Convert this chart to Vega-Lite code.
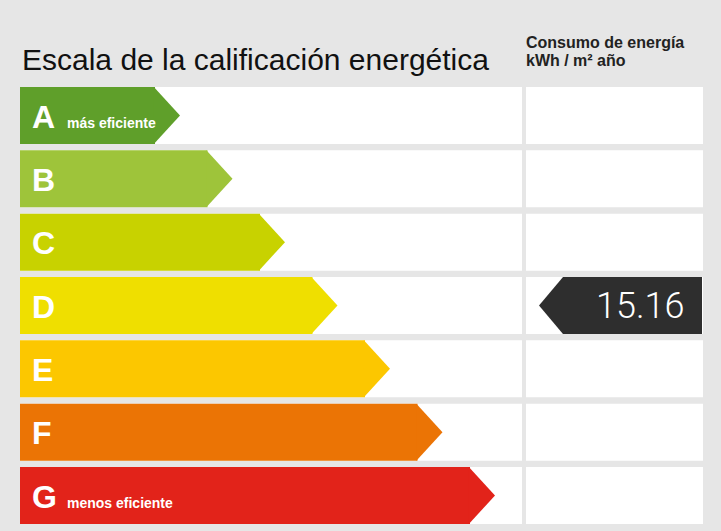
{
  "$schema": "https://vega.github.io/schema/vega-lite/v6.json",
  "background": "#e6e6e6",
  "padding": {"left": 20, "right": 18, "top": 35, "bottom": 8},
  "bounds": "flush",
  "spacing": 4,
  "config": {"view": {"stroke": null}},
  "hconcat": [
    {
      "width": 502,
      "height": 437,
      "title": {
        "text": "Escala de la calificación energética",
        "anchor": "start",
        "baseline": "alphabetic",
        "offset": -13,
        "dx": 2,
        "font": "Liberation Sans",
        "fontSize": 30,
        "fontWeight": "normal",
        "color": "#111111"
      },
      "data": {
        "values": [
          {"grade": "A", "rank": 1, "note": "más eficiente"},
          {"grade": "B", "rank": 2, "note": null},
          {"grade": "C", "rank": 3, "note": null},
          {"grade": "D", "rank": 4, "note": null},
          {"grade": "E", "rank": 5, "note": null},
          {"grade": "F", "rank": 6, "note": null},
          {"grade": "G", "rank": 7, "note": "menos eficiente"}
        ]
      },
      "encoding": {
        "y": {"field": "grade", "type": "ordinal", "axis": null,
              "scale": {"domain": ["A","B","C","D","E","F","G"], "paddingInner": 0.1, "paddingOuter": 0}}
      },
      "layer": [
        {"mark": {"type": "bar", "color": "#ffffff"}},
        {
          "mark": {"type": "bar"},
          "encoding": {
            "x": {"field": "rank", "type": "quantitative", "axis": null,
                  "scale": {"domain": [-1.5714, 7.9905], "zero": false, "nice": false}},
            "x2": {"datum": -1.5714},
            "color": {"field": "grade", "type": "nominal", "legend": null,
                      "scale": {"domain": ["A","B","C","D","E","F","G"],
                                "range": ["#5f9f2a","#9ec43a","#c8d200","#efdf00","#fcc700","#eb7405","#e2231a"]}}
          }
        },
        {
          "mark": {"type": "point", "shape": "M-0.04,-1L0.877,0L-0.04,1Z", "size": 3249, "filled": true, "opacity": 1, "strokeWidth": 0},
          "encoding": {
            "x": {"field": "rank", "type": "quantitative"},
            "color": {"field": "grade", "type": "nominal", "legend": null}
          }
        },
        {
          "mark": {"type": "text", "align": "left", "baseline": "alphabetic", "dx": 12, "dy": 12,
                   "font": "Liberation Sans", "fontSize": 32, "fontWeight": "bold", "color": "#ffffff"},
          "encoding": {
            "x": {"datum": -1.5714, "type": "quantitative"},
            "text": {"field": "grade"}
          }
        },
        {
          "transform": [{"filter": "datum.note != null"}],
          "mark": {"type": "text", "align": "left", "baseline": "alphabetic", "dx": 47, "dy": 12,
                   "font": "Liberation Sans", "fontSize": 14, "fontWeight": "bold", "color": "#ffffff"},
          "encoding": {
            "x": {"datum": -1.5714, "type": "quantitative"},
            "text": {"field": "note"}
          }
        }
      ]
    },
    {
      "width": 177,
      "height": 437,
      "title": {
        "text": ["Consumo de energía", "kWh / m² año"],
        "anchor": "start",
        "baseline": "alphabetic",
        "offset": 5,
        "lineHeight": 18,
        "font": "Liberation Sans",
        "fontSize": 16,
        "fontWeight": "bold",
        "color": "#222222"
      },
      "data": {
        "values": [
          {"grade": "A", "value": null},
          {"grade": "B", "value": null},
          {"grade": "C", "value": null},
          {"grade": "D", "value": 15.16},
          {"grade": "E", "value": null},
          {"grade": "F", "value": null},
          {"grade": "G", "value": null}
        ]
      },
      "encoding": {
        "y": {"field": "grade", "type": "ordinal", "axis": null,
              "scale": {"domain": ["A","B","C","D","E","F","G"], "paddingInner": 0.1, "paddingOuter": 0}}
      },
      "layer": [
        {"mark": {"type": "bar", "color": "#ffffff"}},
        {
          "transform": [{"filter": "datum.value != null"}],
          "mark": {"type": "point", "shape": "M-2.649,0L-1.807,-1L3.07,-1L3.07,1L-1.807,1Z", "size": 3249,
                   "filled": true, "opacity": 1, "strokeWidth": 0, "color": "#2e2e2e"}
        },
        {
          "transform": [{"filter": "datum.value != null"}],
          "mark": {"type": "text", "align": "right", "baseline": "alphabetic", "dx": 70, "dy": 12.5,
                   "font": "Roboto", "fontSize": 36, "fontWeight": 300, "color": "#ffffff"},
          "encoding": {"text": {"field": "value", "type": "quantitative", "format": ".2f"}}
        }
      ]
    }
  ]
}
